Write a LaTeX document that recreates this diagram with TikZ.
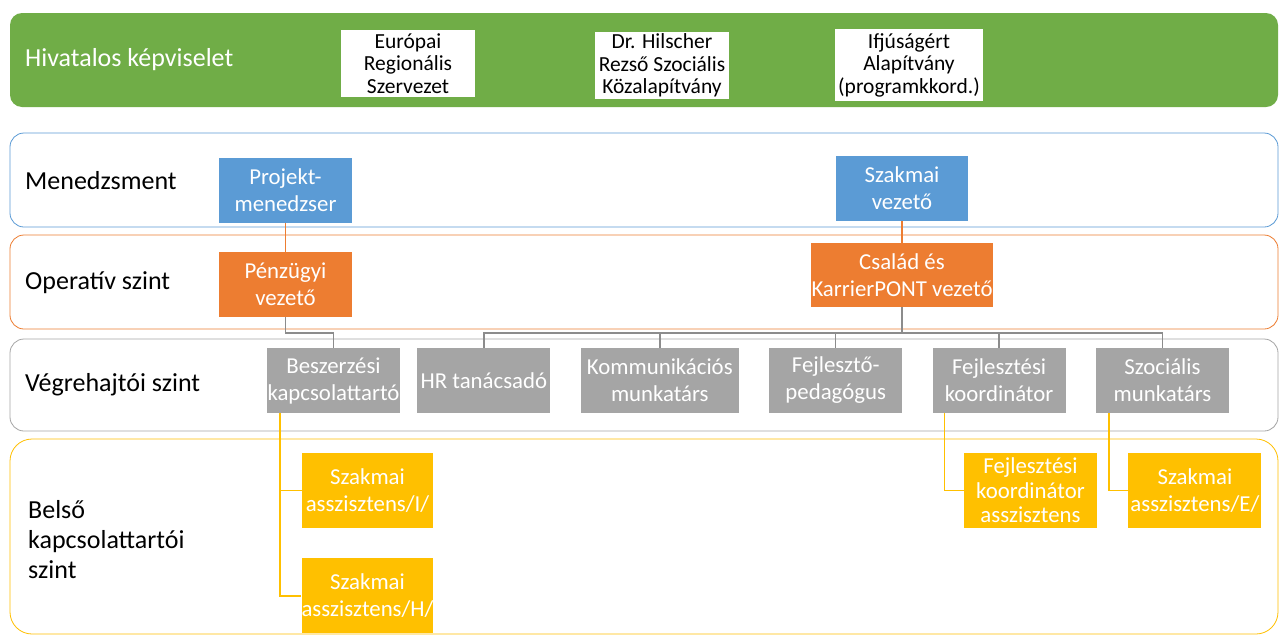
\documentclass[tikz,border=0pt]{standalone}
\usepackage{fontspec}
\setmainfont{Carlito}
\usetikzlibrary{positioning}

\definecolor{repgreen}{RGB}{112,173,71}
\definecolor{mgmtblue}{RGB}{91,155,213}
\definecolor{opsorange}{RGB}{237,125,49}
\definecolor{execgray}{RGB}{165,165,165}
\definecolor{linkgray}{RGB}{140,140,140}
\definecolor{innergold}{RGB}{255,192,0}

\begin{document}
\begin{tikzpicture}[x=1pt, y=-1pt, node distance=30pt,
  band/.style={rounded corners=14pt, line width=0.8pt},
  level label/.style={anchor=west, align=left, inner sep=0, font=\fontsize{26}{30}\selectfont},
  rep node/.style={rectangle, fill=white, inner sep=0, align=center, minimum width=134pt, minimum height=67pt, font=\fontsize{21.5}{22.5}\selectfont},
  unit node/.style={rectangle, inner sep=0, align=center, text=white, minimum width=133pt, minimum height=65pt, font=\fontsize{22.8}{27}\selectfont},
  inner node/.style={unit node, fill=innergold, minimum height=75pt},
  link/.style={line width=1.5pt}]

\useasboundingbox (0,0) rectangle (1279,635);
\fill[white] (0,0) rectangle (1279,635);

% levels
\fill[repgreen, rounded corners=12pt] (10,13) rectangle (1278,107);
\draw[band, mgmtblue] (10,133) rectangle (1278,227);
\draw[band, opsorange] (10,235) rectangle (1278,329);
\draw[band, execgray] (10,339) rectangle (1278,431);
\draw[band, innergold, rounded corners=22pt] (10,439) rectangle (1278,634);

\node[level label, text=white] (hivatalos) at (25,60) {Hivatalos képviselet};
\node[level label] (menedzsment) at (25,181) {Menedzsment};
\node[level label] (operativ) at (25,283) {Operatív szint};
\node[level label] (vegrehajtoi) at (25,385) {Végrehajtói szint};
\node[level label] (belso) at (28,540) {Belső\\kapcsolattartói\\szint};

% representation
\node[rep node] (euro) at (408,63.5) {Európai\\Regionális\\Szervezet};
\node[rep node] (hilscher) at (662,65.5) {Dr. Hilscher\\Rezső Szociális\\Közalapítvány};
\node[rep node, minimum width=148pt, minimum height=72pt] (ifjusag) at (909,65) {Ifjúságért\\Alapítvány\\(programkkord.)};

% management and operative
\node[unit node, fill=mgmtblue] (proj) at (285.5,190) {Projekt-\\menedzser};
\node[unit node, fill=opsorange] (penz) at (285.5,284.5) {Pénzügyi\\vezető};
\node[unit node, fill=mgmtblue, minimum width=132pt] (szakv) at (902,188.5) {Szakmai\\vezető};
\node[unit node, fill=opsorange, minimum width=182pt, minimum height=64pt] (csalad) at (902,275) {Család és\\KarrierPONT vezető};

% executive
\node[unit node, fill=execgray] (besz) at (333.5,380.5) {Beszerzési\\kapcsolattartó};
\node[unit node, fill=execgray] (hr) [right=17pt of besz] {HR tanácsadó};
\node[unit node, fill=execgray, minimum width=158pt] (komm) [right=of hr] {Kommunikációs\\munkatárs};
\node[unit node, fill=execgray] (fped) [right=of komm] {Fejlesztő-\\pedagógus};
\node[unit node, fill=execgray] (fkoord) [right=of fped] {Fejlesztési\\koordinátor};
\node[unit node, fill=execgray] (szoc) [right=of fkoord] {Szociális\\munkatárs};

% internal contacts
\node[inner node, minimum width=131pt] (asszI) at (367.5,490.5) {Szakmai\\asszisztens/I/};
\node[inner node, minimum width=131pt] (asszH) [below=of asszI] {Szakmai\\asszisztens/H/};
\node[inner node, font=\fontsize{22.8}{24.5}\selectfont] (fkasszt) at (1030.5,490.5) {Fejlesztési\\koordinátor\\asszisztens};
\node[inner node] (asszE) [right=31pt of fkasszt] {Szakmai\\asszisztens/E/};

\draw[link, opsorange] (proj) -- (penz);
\draw[link, opsorange] (szakv) -- (csalad);
\draw[link, linkgray] (penz.south) -- ++(0,16) -| (besz.north);
\draw[link, linkgray] (csalad.south) -- ++(0,26) coordinate (bus);
\foreach \c in {hr,komm,fped,fkoord,szoc}
  \draw[link, linkgray] (bus) -| (\c.north);
\draw[link, innergold] ([xshift=13pt]besz.south west) |- (asszI.west);
\draw[link, innergold] ([xshift=13pt]besz.south west) |- (asszH.west);
\draw[link, innergold] ([xshift=12pt]fkoord.south west) |- (fkasszt.west);
\draw[link, innergold] ([xshift=13pt]szoc.south west) |- (asszE.west);

\end{tikzpicture}
\end{document}
